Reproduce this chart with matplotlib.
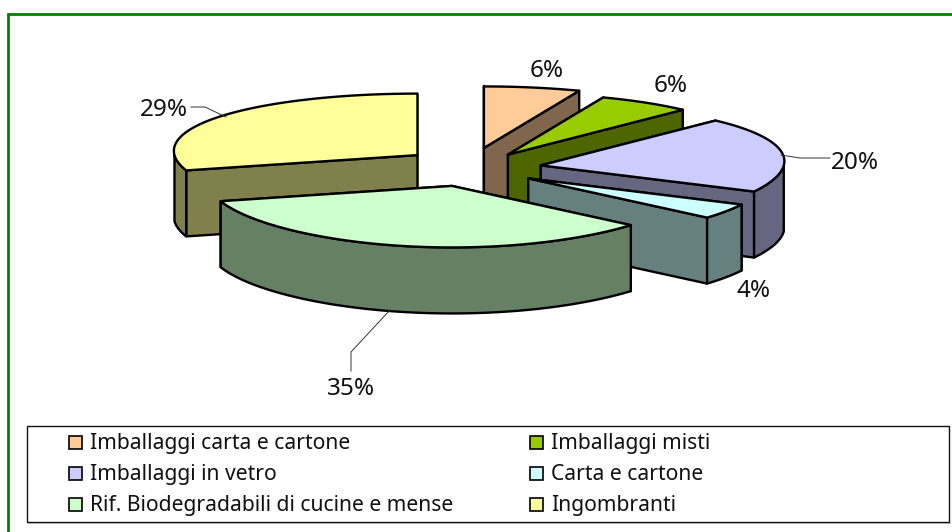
import numpy as np
import matplotlib
matplotlib.use("Agg")
import matplotlib.pyplot as plt
from matplotlib.patches import Polygon, Rectangle

plt.rcParams['font.family'] = ['Noto Sans', 'DejaVu Sans']

# -------------------------------
# Data
# -------------------------------
categories = ["Imballaggi carta e cartone", "Imballaggi misti", "Imballaggi in vetro",
              "Carta e cartone", "Rif. Biodegradabili di cucine e mense", "Ingombranti"]
values = [6, 6, 20, 4, 35, 29]
colors = ["#FFCC99", "#99CC00", "#CCCCFF", "#CCFFFF", "#CCFFCC", "#FFFF99"]

# label centres and leader lines, in pixels
label_pos = [(547, 70), (671, 85), (855, 162), (754, 290), (351, 388), (164, 109)]
leaders = {2: [(781, 155), (800, 158), (830, 158)],
           4: [(390, 310), (351, 352), (351, 371)],
           5: [(226, 117), (205, 107), (191, 107)]}

# -------------------------------
# Pie projection
# -------------------------------
cx, cy = 472, 167       # pie centre
rx, ry = 243, 61.5      # top ellipse radii
ex, ey = 69, 19.4       # explosion
depth = 66
k = 0.07                # ellipse looks narrower at the front
nudge = {0: (-1, 0), 1: (-1, 4), 2: (1, 2), 3: (-2, 1), 4: (-5, 0)}  # small per-slice shifts


def project(a_deg, ox, oy):
    a = np.radians(a_deg)
    x = ox + rx * np.sin(a) * (1 + k * np.cos(a))
    y = oy - ry * np.cos(a)
    return x, y


def draw_slice(ax, idx, start, end, color):
    mid = np.radians((start + end) / 2)
    dx, dy = nudge.get(idx, (0, 0))
    ox = cx + ex * np.sin(mid) + dx
    oy = cy - ey * np.cos(mid) + dy
    side = tuple(c * 0.5 for c in matplotlib.colors.to_rgb(color))
    edge = dict(edgecolor="black", linewidth=1.7, joinstyle="round")

    # cut faces, the far one first
    faces = sorted([start, end], key=lambda a: project(a, ox, oy)[1])
    for a in faces:
        x, y = project(a, ox, oy)
        ax.add_patch(Polygon([(ox, oy), (x, y), (x, y + depth), (ox, oy + depth)],
                             facecolor=side, **edge))

    # outer rim, only the part turned to the viewer
    lo, hi = max(start, 90), min(end, 270)
    if hi > lo:
        t = np.linspace(lo, hi, 80)
        x, y = project(t, ox, oy)
        pts = np.vstack([np.column_stack([x, y]),
                         np.column_stack([x, y + depth])[::-1]])
        ax.add_patch(Polygon(pts, facecolor=side, **edge))

    # top
    t = np.linspace(start, end, 120)
    x, y = project(t, ox, oy)
    pts = np.vstack([[(ox, oy)], np.column_stack([x, y])])
    ax.add_patch(Polygon(pts, facecolor=color, **edge))


fig = plt.figure(figsize=(9.53, 5.32), dpi=100)
ax = fig.add_axes([0, 0, 1, 1])
ax.set_xlim(0, 953)
ax.set_ylim(532, 0)
ax.axis("off")

# green frame
ax.plot([8.5, 8.5, 953], [532, 13.5, 13.5], color="#008000", lw=2, solid_joinstyle="miter")

# slices, back to front
total = sum(values)
edges = np.concatenate([[0], np.cumsum(values)]) * 360 / total
mids = np.radians((edges[:-1] + edges[1:]) / 2)
order = np.argsort(cy - ey * np.cos(mids))
for i in order:
    draw_slice(ax, i, edges[i], edges[i + 1], colors[i])

# leaders and percent labels
for pts in leaders.values():
    xs, ys = zip(*pts)
    ax.plot(xs, ys, color="#333333", lw=0.7)
for v, (x, y) in zip(values, label_pos):
    ax.text(x, y + 1, f"{v}%", ha="center", va="center", fontsize=17.5, color="#111111")

# legend
ax.add_patch(Rectangle((27.5, 426), 922, 96, facecolor="white", edgecolor="#111111", lw=1))
ax.plot([28, 950], [523, 523], color="#aaaaaa", lw=0.7)
col_x = [69, 530]
row_y = [442, 473, 504]
for i, name in enumerate(categories):
    x = col_x[i % 2]
    y = row_y[i // 2]
    ax.add_patch(Rectangle((x, y - 6.5), 13, 13, facecolor=colors[i], edgecolor="black", lw=1.2))
    ax.text(x + 21, y + 1.5, name, ha="left", va="center", fontsize=15.2, color="#111111")

fig.savefig("out.png", dpi=100)
